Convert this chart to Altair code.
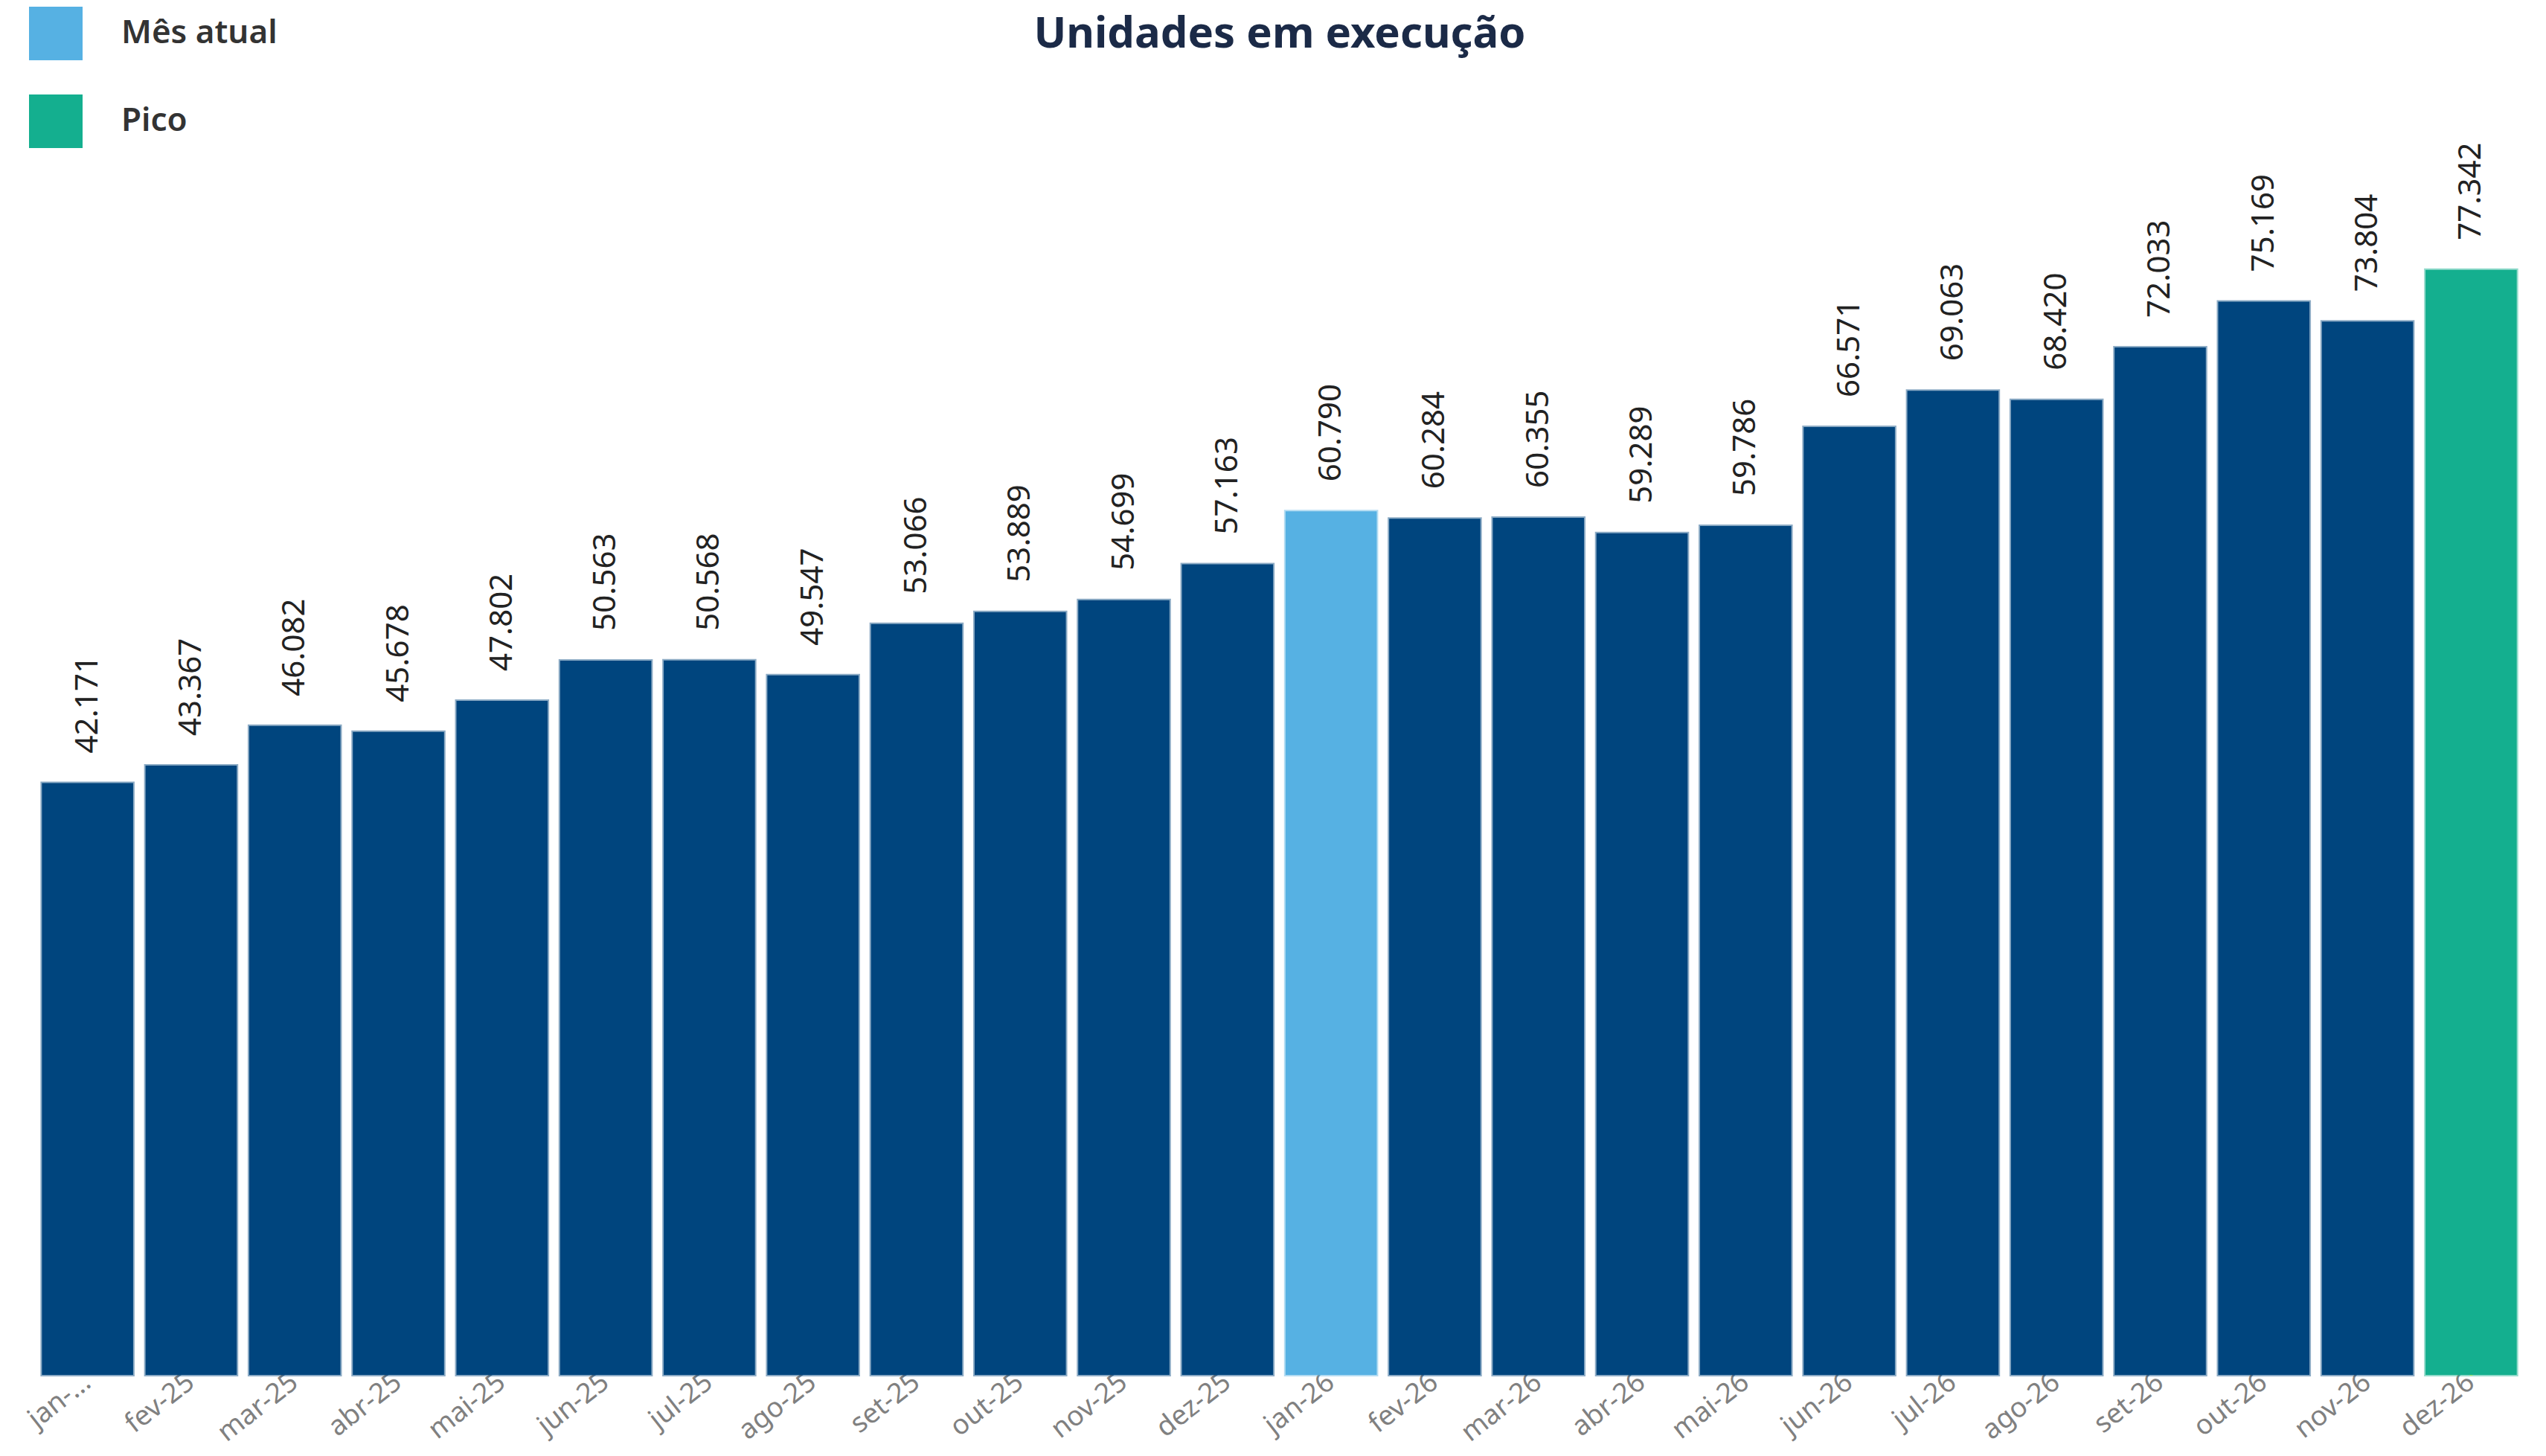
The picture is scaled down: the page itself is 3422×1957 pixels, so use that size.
import altair as alt
import pandas as pd

title_text = "Unidades em execução"
months = ["jan-25", "fev-25", "mar-25", "abr-25", "mai-25", "jun-25", "jul-25", "ago-25",
          "set-25", "out-25", "nov-25", "dez-25", "jan-26", "fev-26", "mar-26", "abr-26",
          "mai-26", "jun-26", "jul-26", "ago-26", "set-26", "out-26", "nov-26", "dez-26"]
values = [42171, 43367, 46082, 45678, 47802, 50563, 50568, 49547, 53066, 53889, 54699, 57163,
          60790, 60284, 60355, 59289, 59786, 66571, 69063, 68420, 72033, 75169, 73804, 77342]
current_month = "jan-26"
legend_labels = ["Mês atual", "Pico"]
other_label = "Normal"
colors = ["#56B1E3", "#14AF8F", "#00457E"]

peak_month = months[values.index(max(values))]
kinds = [legend_labels[0] if m == current_month else (legend_labels[1] if m == peak_month else other_label)
         for m in months]
df = pd.DataFrame({"mes": months, "valor": values, "tipo": kinds})

W, H = 3343, 1840
FONT = "Noto Sans"

color_scale = alt.Scale(domain=legend_labels + [other_label], range=colors)
x_enc = alt.X("mes:N", sort=months, title=None,
              scale=alt.Scale(paddingInner=0.12, paddingOuter=0.06),
              axis=alt.Axis(labelAngle=322, labelAlign="right", labelBaseline="middle",
                            labelFontSize=37, labelFont=FONT, labelColor="#808080",
                            labelPadding=5, ticks=False, domain=False, grid=False,
                            labelLimit=0,
                            labelExpr="datum.value == 'jan-25' ? 'jan-...' : datum.value"))
y_enc = alt.Y("valor:Q", title=None, axis=None,
              scale=alt.Scale(domain=[1600, 95435], zero=False, nice=False, clamp=True))

base = alt.Chart(df)

bars = base.mark_bar(strokeWidth=4, strokeOpacity=0.45).encode(
    x=x_enc,
    y=y_enc,
    color=alt.Color("tipo:N", scale=color_scale, title=None,
                    legend=alt.Legend(values=legend_labels, orient="none", legendX=-9, legendY=1,
                                      symbolType="square", symbolSize=5184, symbolStrokeWidth=0,
                                      symbolOpacity=1, labelLimit=0,
                                      labelFontSize=44, labelFont=FONT, labelFontWeight=600,
                                      labelColor="#333333", labelOffset=52, rowPadding=46,
                                      padding=0)),
    stroke=alt.Stroke("tipo:N", scale=color_scale, legend=None),
)

peak_line = base.transform_filter(f"datum.tipo == '{legend_labels[1]}'").mark_tick(
    color="#C8F53C", thickness=4, size=118
).encode(x=alt.X("mes:N", sort=months), y=alt.value(H + 1))

labels = base.transform_calculate(
    rotulo="replace(format(datum.valor, ','), ',', '.')"
).mark_text(angle=270, align="left", baseline="middle", dx=40, fontSize=42,
            font=FONT, color="#222222").encode(
    x=alt.X("mes:N", sort=months),
    y="valor:Q",
    text="rotulo:N",
)

title = alt.Chart(pd.DataFrame({"t": [title_text]})).mark_text(
    align="center", baseline="top", fontSize=58, fontWeight="bold",
    font=FONT, color="#1B2A47"
).encode(text="t:N", x=alt.value(1672), y=alt.value(10))

chart = alt.layer(bars, peak_line, labels, title).properties(
    width=W, height=H,
    background="white",
    padding={"left": 40, "top": 0, "right": 20, "bottom": 101},
    autosize=alt.AutoSizeParams(type="none"),
).configure_view(stroke=None)

chart.save("out.html", embed_options={"renderer": "svg", "actions": False})
